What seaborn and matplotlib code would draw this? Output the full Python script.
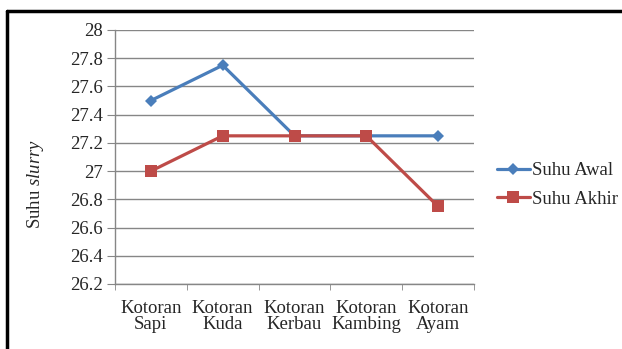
import matplotlib
matplotlib.use("Agg")
import matplotlib.pyplot as plt
import seaborn as sns
import pandas as pd
import numpy as np
from matplotlib.lines import Line2D

categories = ["Kotoran\nSapi", "Kotoran\nKuda", "Kotoran\nKerbau", "Kotoran\nKambing", "Kotoran\nAyam"]
suhu_awal = [27.5, 27.75, 27.25, 27.25, 27.25]
suhu_akhir = [27.0, 27.25, 27.25, 27.25, 26.75]
y_ticks = [26.2, 26.4, 26.6, 26.8, 27.0, 27.2, 27.4, 27.6, 27.8, 28.0]
y_tick_labels = ["26.2", "26.4", "26.6", "26.8", "27", "27.2", "27.4", "27.6", "27.8", "28"]

sns.set_style("white")
plt.rcParams['font.family'] = ['Liberation Serif', 'DejaVu Serif']
plt.rcParams['mathtext.fontset'] = 'custom'
plt.rcParams['mathtext.rm'] = 'Liberation Serif'
plt.rcParams['mathtext.it'] = 'Liberation Serif:italic'

FS = 13.5

df = pd.DataFrame({
    "pos": list(range(len(categories))) * 2,
    "val": suhu_awal + suhu_akhir,
    "series": ["Suhu Awal"] * len(categories) + ["Suhu Akhir"] * len(categories),
})

fig = plt.figure(figsize=(6.22, 3.49), dpi=100)
ax = fig.add_axes([115/622, 1-284/349, (474-115)/622, (284-30)/349])

colors = {"Suhu Awal": "#4A7EBB", "Suhu Akhir": "#BE4B48"}
sns.lineplot(data=df, x="pos", y="val", hue="series", style="series",
             markers={"Suhu Awal": "D", "Suhu Akhir": "s"}, dashes=False,
             palette=colors, linewidth=2.3, ax=ax, legend=False)
for line, ms in zip(ax.lines, [6.5, 8.5]):
    line.set_markersize(ms)
    line.set_markeredgewidth(0)

ax.set_xlim(-0.5, len(categories) - 0.5)
ax.set_ylim(26.2, 28.0)
ax.set_yticks(y_ticks)
ax.set_yticklabels(y_tick_labels, fontsize=FS)
ax.set_xticks(range(len(categories)))
ax.set_xticklabels(categories, fontsize=FS, linespacing=0.92)
ax.set_xticks(np.arange(-0.5, len(categories), 1.0), minor=True)
ax.tick_params(axis='x', which='major', length=0, pad=11.5)
ax.tick_params(axis='x', which='minor', length=4, color='#868686', direction='out', bottom=True)
ax.tick_params(axis='y', length=5.5, color='#868686', direction='out', left=True, pad=3.5)
ax.grid(axis='y', color='#868686', linewidth=1)
ax.set_axisbelow(True)
for s in ["top", "right"]:
    ax.spines[s].set_visible(False)
for s in ["left", "bottom"]:
    ax.spines[s].set_color('#868686')
    ax.spines[s].set_linewidth(1)
ax.set_xlabel("")
ax.set_ylabel("")
fig.text(35/622, 1-184/349, "Suhu $\\mathit{slurry}$", fontsize=FS, rotation=90, ha='center', va='center')

# legend
handles = [Line2D([], [], color=colors["Suhu Awal"], marker="D", markersize=6, markeredgewidth=0, linewidth=2.3),
           Line2D([], [], color=colors["Suhu Akhir"], marker="s", markersize=8.5, markeredgewidth=0, linewidth=2.3)]
fig.legend(handles, ["Suhu Awal", "Suhu Akhir"], loc="center left", bbox_to_anchor=(497/622, 1-185/349),
           frameon=False, fontsize=FS, handlelength=1.75, handletextpad=0.1, labelspacing=0.62,
           borderpad=0, borderaxespad=0)

# figure frame (top and left visible)
fig.add_artist(plt.Line2D([7/622, 7/622], [0, 1-11/349], transform=fig.transFigure, color='black', linewidth=2.5))
fig.add_artist(plt.Line2D([7/622, 1], [1-11/349, 1-11/349], transform=fig.transFigure, color='black', linewidth=2.5))

fig.savefig("out.png", dpi=100)
